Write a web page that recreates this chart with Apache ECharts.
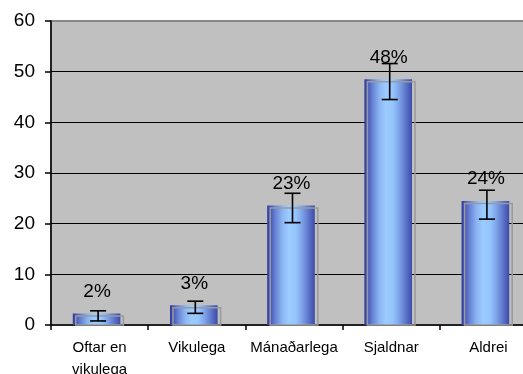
<!DOCTYPE html>
<html>
<head>
<meta charset="utf-8">
<script src="https://cdn.jsdelivr.net/npm/echarts@6/dist/echarts.min.js"></script>
<style>
html,body{margin:0;padding:0;overflow:hidden;background:#fff;}
#c{width:540px;height:374px;}
</style>
</head>
<body>
<div id="c"></div>
<script>
const categories = ['Oftar en\nvikulega', 'Vikulega', 'Mánaðarlega', 'Sjaldnar', 'Aldrei'];
const values = [1.8, 3.4, 23.1, 48.0, 24.0];
const errLow = [0.8, 2.3, 20.2, 44.5, 20.9];
const errHigh = [2.8, 4.7, 26.0, 51.6, 26.6];
const yTicks = [0, 10, 20, 30, 40, 50, 60];

const FONT = "'Liberation Sans', Arial, sans-serif";
const chart = echarts.init(document.getElementById('c'), null, {renderer: 'canvas'});

const barFill = {
  type: 'linear', x: 0, y: 0, x2: 1, y2: 0,
  colorStops: [
    {offset: 0, color: '#2e3b9c'},
    {offset: 0.06, color: '#4452b4'},
    {offset: 0.18, color: '#6a86d6'},
    {offset: 0.32, color: '#8cb6f2'},
    {offset: 0.45, color: '#9bcbff'},
    {offset: 0.6, color: '#95c5fc'},
    {offset: 0.72, color: '#7fa6ea'},
    {offset: 0.86, color: '#5f78cc'},
    {offset: 1, color: '#3d4aa8'}
  ]
};

const data = values.map((v, i) => [i, v, errLow[i], errHigh[i]]);

chart.setOption({
  animation: false,
  backgroundColor: '#ffffff',
  grid: {
    left: 51, right: 3, top: 21, bottom: 49,
    containLabel: false, outerBoundsMode: 'none',
    show: true, backgroundColor: '#c0c0c0', borderColor: '#888888', borderWidth: 2
  },
  xAxis: {
    type: 'category',
    data: categories,
    axisLine: {show: true, lineStyle: {color: '#000', width: 1.5}},
    axisTick: {show: true, alignWithLabel: false, length: 5, lineStyle: {color: '#000', width: 1.5}},
    axisLabel: {color: '#000', fontFamily: FONT, fontSize: 15, lineHeight: 22, margin: 12, interval: 0},
    splitLine: {show: false}
  },
  yAxis: {
    type: 'value',
    min: 0, max: 60, interval: 10,
    axisLine: {show: true, lineStyle: {color: '#000', width: 1.5}},
    axisTick: {show: true, length: 6, lineStyle: {color: '#000', width: 1.5}},
    axisLabel: {color: '#000', fontFamily: FONT, fontSize: 19, margin: 16,
      formatter: v => yTicks.includes(v) ? String(v) : ''},
    splitLine: {show: true, showMinLine: false, showMaxLine: false, lineStyle: {color: '#000', width: 1}}
  },
  series: [{
    type: 'custom',
    data: data,
    renderItem: function (params, api) {
      const idx = api.value(0);
      const v = api.value(1);
      const lo = api.value(2);
      const hi = api.value(3);
      const base = api.coord([idx, 0]);
      const top = api.coord([idx, v]);
      const loP = api.coord([idx, lo]);
      const hiP = api.coord([idx, hi]);
      const cx = base[0];
      const bw = api.size([1, 0])[0] * 0.49;
      const fx = cx - bw / 2 - 3;
      const fy = top[1] - 2.5;
      const ex = cx - 1.5;
      const capW = 8;
      return {
        type: 'group',
        children: [
          {type: 'rect', shape: {x: fx, y: fy, width: bw, height: base[1] - fy},
           style: {fill: barFill}},
          {type: 'rect', shape: {x: cx - bw / 2, y: top[1], width: bw, height: base[1] - top[1]},
           style: {fill: null, stroke: '#9a9a9a', lineWidth: 1.5}},
          {type: 'line', shape: {x1: ex, y1: hiP[1], x2: ex, y2: loP[1]},
           style: {stroke: '#000', lineWidth: 1.6}},
          {type: 'line', shape: {x1: ex - capW, y1: hiP[1], x2: ex + capW, y2: hiP[1]},
           style: {stroke: '#000', lineWidth: 1.6}},
          {type: 'line', shape: {x1: ex - capW, y1: loP[1], x2: ex + capW, y2: loP[1]},
           style: {stroke: '#000', lineWidth: 1.6}},
          {type: 'text', x: cx - 2.5, y: top[1] - 24.5,
           style: {text: Math.round(v) + '%', fill: '#000', font: '19px ' + FONT,
             align: 'center', verticalAlign: 'middle'}}
        ]
      };
    }
  }]
});
</script>
</body>
</html>
